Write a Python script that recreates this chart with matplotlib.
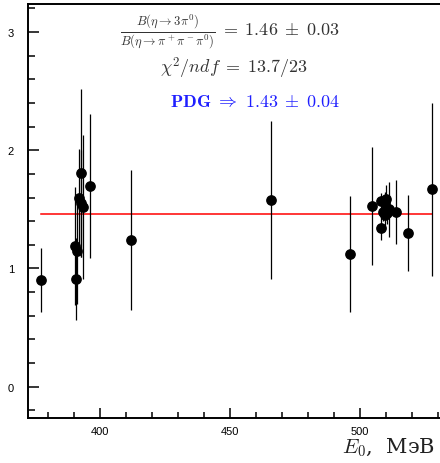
import matplotlib
matplotlib.use("Agg")
import matplotlib.pyplot as plt
from matplotlib.ticker import MultipleLocator

plt.rcParams["mathtext.fontset"] = "cm"

# measured ratio vs beam energy E0 (MeV)
energy = [377.2, 390.3, 390.8, 391.0, 391.9, 392.6, 392.8, 393.6, 396.3,
          412.0, 465.9, 496.1, 504.7,
          508.3, 508.3, 508.9, 509.6, 509.6, 510.2, 510.5, 511.4,
          513.8, 518.5, 527.6]
ratio = [0.90, 1.19, 0.91, 1.15, 1.60, 1.55, 1.81, 1.52, 1.70,
         1.24, 1.58, 1.12, 1.53,
         1.57, 1.34, 1.48, 1.55, 1.45, 1.59, 1.47, 1.50,
         1.48, 1.30, 1.67]
error = [0.27, 0.50, 0.35, 0.45, 0.41, 0.45, 0.71, 0.61, 0.61,
         0.59, 0.67, 0.49, 0.50,
         0.07, 0.10, 0.08, 0.10, 0.12, 0.12, 0.09, 0.23,
         0.27, 0.32, 0.73]

fit_value = 1.46

fig = plt.figure(figsize=(4.4, 4.64), dpi=100)
ax = fig.add_axes([28 / 440, 45 / 464, 415 / 440, 414 / 464])

ax.errorbar(
    energy,
    ratio,
    yerr=error,
    fmt="o",
    color="black",
    ecolor="black",
    elinewidth=0.9,
    markersize=6.7,
    capsize=0,
    zorder=3,
)
ax.plot([min(energy), max(energy)], [fit_value, fit_value],
        color="red", lw=1.1, zorder=2)

ax.set_xlim(372.3, 532.0)
ax.set_ylim(-0.265, 3.237)

ax.xaxis.set_major_locator(MultipleLocator(50))
ax.xaxis.set_minor_locator(MultipleLocator(10))
ax.yaxis.set_major_locator(MultipleLocator(1))
ax.yaxis.set_minor_locator(MultipleLocator(0.2))

ax.tick_params(which="both", direction="in", top=False, right=False,
               labelsize=8, width=1.1)
ax.tick_params(axis="y", which="major", length=8, pad=10)
ax.tick_params(axis="y", which="minor", length=5)
ax.tick_params(axis="x", which="major", length=7.5, pad=6)
ax.tick_params(axis="x", which="minor", length=4.5)
for lab in ax.get_xticklabels() + ax.get_yticklabels():
    lab.set_family("Liberation Sans")

for side in ["left", "bottom", "top"]:
    ax.spines[side].set_linewidth(1.4)
ax.spines["right"].set_visible(False)

fig.text(230 / 440, 1 - 33 / 464,
         r"$\frac{B(\eta\to 3\pi^0)}{B(\eta\to\pi^+\pi^-\pi^0)}\;=\;1.46\;\pm\;0.03$",
         ha="center", va="center", fontsize=13, color="#333333")
fig.text(234 / 440, 1 - 68 / 464, r"$\chi^2/ndf\;=\;13.7/23$",
         ha="center", va="center", fontsize=13, color="#333333")
fig.text(255 / 440, 1 - 102 / 464,
         r"$\mathbf{PDG}\ \Rightarrow\ 1.43\;\pm\;0.04$",
         ha="center", va="center", fontsize=13, color="#1f1fff")

fig.text(435 / 440, 1 - 448 / 464, r"$E_0$,  МэВ", ha="right", va="center",
         fontsize=15, family="DejaVu Serif", color="#222222")

fig.savefig("out.png", dpi=100)
